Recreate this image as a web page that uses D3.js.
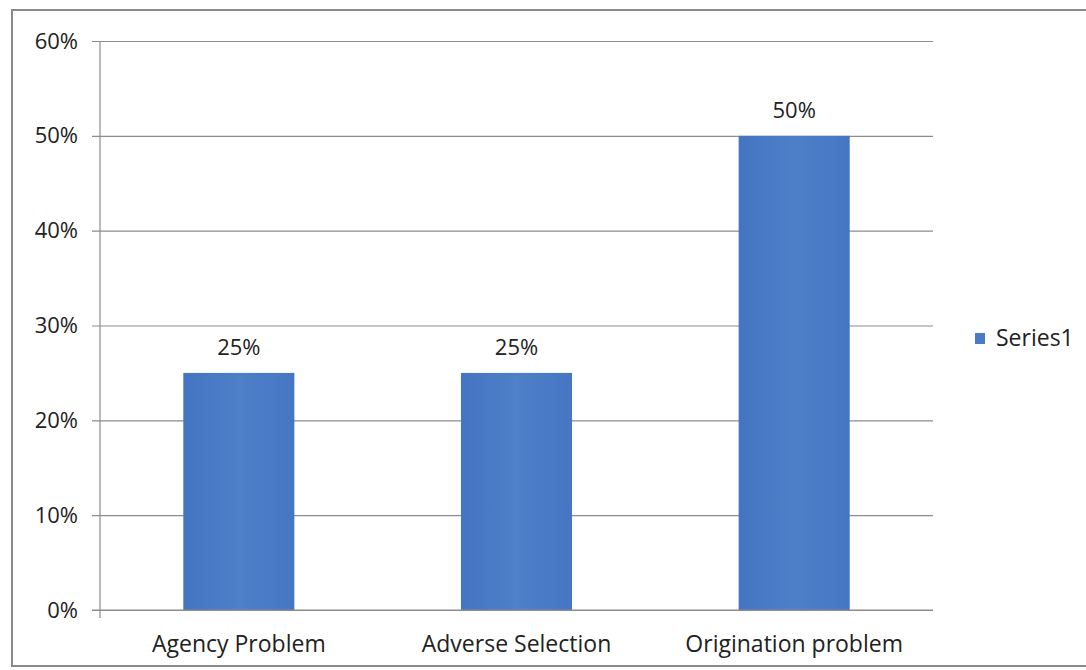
<!DOCTYPE html>
<html>
<head>
<meta charset="utf-8">
<script src="https://cdn.jsdelivr.net/npm/d3@7/dist/d3.min.js"></script>
<style>
  html, body { margin: 0; padding: 0; background: #fff; }
  svg { display: block; }
  text { font-family: "Open Sans", "Noto Sans", sans-serif; fill: #222; }
</style>
</head>
<body>
<svg id="chart" width="1086" height="670"></svg>
<script>
// Chart data
const categories = ["Agency Problem", "Adverse Selection", "Origination problem"];
const series1 = [0.25, 0.25, 0.50];
const yTicks = [0, 0.1, 0.2, 0.3, 0.4, 0.5, 0.6];
const seriesName = "Series1";

const svg = d3.select("#chart");
const W = 1086, H = 670;
const FS = 22;
const FS_CAT = 23;

// outer frame
svg.append("rect")
  .attr("x", 12).attr("y", 10)
  .attr("width", W + 10).attr("height", 656)
  .attr("fill", "#fff")
  .attr("stroke", "#8a8a8a").attr("stroke-width", 2);

const plot = { left: 100, right: 933, top: 41, bottom: 610 };

const x = d3.scaleBand()
  .domain(categories)
  .range([plot.left, plot.right])
  .paddingInner(0.6)
  .paddingOuter(0.3);

const y = d3.scaleLinear()
  .domain([0, 0.6])
  .range([plot.bottom, plot.top]);

// bar gradient
const defs = svg.append("defs");
const grad = defs.append("linearGradient").attr("id", "barFill")
  .attr("x1", "0").attr("x2", "1").attr("y1", "0").attr("y2", "0");
grad.append("stop").attr("offset", "0").attr("stop-color", "#4574c0");
grad.append("stop").attr("offset", "0.5").attr("stop-color", "#4d80c9");
grad.append("stop").attr("offset", "1").attr("stop-color", "#4676c2");

// horizontal gridlines + y axis
const yAxis = d3.axisLeft(y)
  .tickValues(yTicks)
  .tickSize(-(plot.right - plot.left))
  .tickPadding(22)
  .tickFormat(d3.format(".0%"));

const gy = svg.append("g")
  .attr("transform", `translate(${plot.left},0)`)
  .call(yAxis);
gy.select(".domain").remove();
gy.selectAll(".tick line")
  .attr("x1", -8)
  .attr("stroke", "#8c8c8c").attr("stroke-width", 1.2);
gy.selectAll(".tick text")
  .attr("font-size", FS)
  .attr("fill", "#222")
  .style("font-family", "'Open Sans', 'Noto Sans', sans-serif");

// vertical axis line
svg.append("line")
  .attr("x1", plot.left).attr("x2", plot.left)
  .attr("y1", plot.top).attr("y2", plot.bottom + 8)
  .attr("stroke", "#8c8c8c").attr("stroke-width", 1.2);

// bars
svg.append("g").selectAll("rect")
  .data(categories)
  .join("rect")
  .attr("x", d => x(d))
  .attr("width", x.bandwidth())
  .attr("y", (d, i) => y(series1[i]))
  .attr("height", (d, i) => y(0) - y(series1[i]))
  .attr("fill", "url(#barFill)");

// redraw baseline over bars
svg.append("line")
  .attr("x1", plot.left - 8).attr("x2", plot.right)
  .attr("y1", y(0)).attr("y2", y(0))
  .attr("stroke", "#8c8c8c").attr("stroke-width", 1.2);

// data labels
svg.append("g").selectAll("text")
  .data(categories)
  .join("text")
  .attr("x", d => x(d) + x.bandwidth() / 2)
  .attr("y", (d, i) => y(series1[i]) - 18)
  .attr("text-anchor", "middle")
  .attr("font-size", FS)
  .text((d, i) => d3.format(".0%")(series1[i]));

// category labels
svg.append("g").selectAll("text")
  .data(categories)
  .join("text")
  .attr("x", d => x(d) + x.bandwidth() / 2)
  .attr("y", 652)
  .attr("text-anchor", "middle")
  .attr("font-size", FS_CAT)
  .text(d => d);

// legend
const lg = svg.append("g").attr("transform", "translate(975,333)");
lg.append("rect").attr("width", 10).attr("height", 11).attr("fill", "#4a7bc5");
lg.append("text").attr("x", 21).attr("y", 13)
  .attr("font-size", FS_CAT).text(seriesName);
</script>
</body>
</html>
